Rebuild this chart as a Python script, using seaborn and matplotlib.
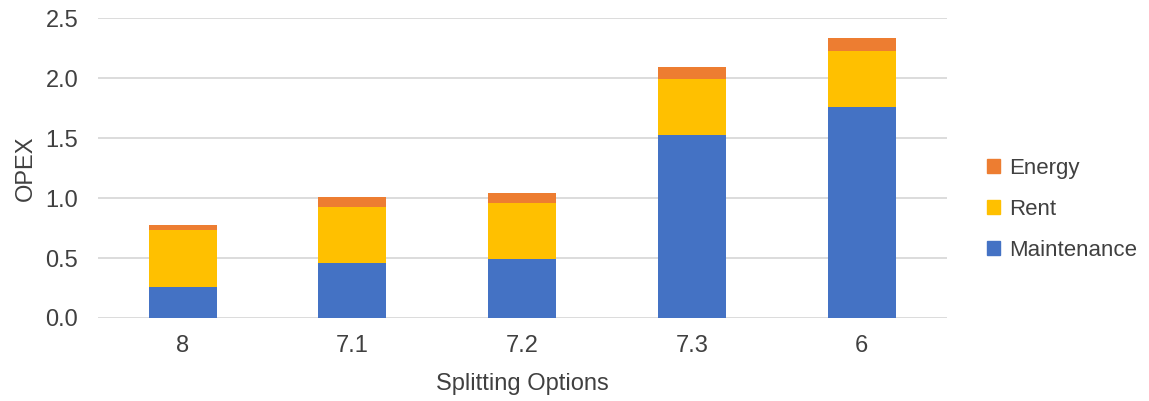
import matplotlib
matplotlib.use('Agg')
import matplotlib.pyplot as plt
import pandas as pd
import seaborn as sns
from matplotlib.patches import Patch

# Data
options = ['8', '7.1', '7.2', '7.3', '6']
maintenance = [0.26, 0.46, 0.49, 1.525, 1.76]
rent = [0.47, 0.465, 0.47, 0.47, 0.465]
energy = [0.045, 0.085, 0.085, 0.10, 0.105]

colors = {'Maintenance': '#4472C4', 'Rent': '#FFC000', 'Energy': '#ED7D31'}

df = pd.DataFrame({'option': options, 'Maintenance': maintenance,
                   'Rent': rent, 'Energy': energy})
# cumulative heights for stacking (drawn back to front)
df['Rent_top'] = df['Maintenance'] + df['Rent']
df['Energy_top'] = df['Rent_top'] + df['Energy']

sns.set_style('white')
plt.rcParams['font.family'] = ['Liberation Sans', 'DejaVu Sans']

fig, ax = plt.subplots(figsize=(11.49, 4.01), dpi=100)
fig.subplots_adjust(left=0.085, right=0.824, bottom=0.207, top=0.955)

for col, key in [('Energy_top', 'Energy'), ('Rent_top', 'Rent'),
                 ('Maintenance', 'Maintenance')]:
    sns.barplot(data=df, x='option', y=col, color=colors[key], width=0.4,
                saturation=1, linewidth=0, ax=ax, zorder=3)

ax.set_ylim(0, 2.5)
ax.set_yticks([0, 0.5, 1.0, 1.5, 2.0, 2.5])
ax.set_yticklabels(['0.0', '0.5', '1.0', '1.5', '2.0', '2.5'])
ax.yaxis.grid(True, color='#D9D9D9', linewidth=1.3, zorder=0)
ax.set_axisbelow(True)
for s in ax.spines.values():
    s.set_visible(False)

ax.tick_params(axis='x', length=0, pad=12, labelsize=17, labelcolor='#404040')
ax.tick_params(axis='y', length=0, pad=14, labelsize=17, labelcolor='#404040')
ax.set_xlabel('Splitting Options', fontsize=17, color='#404040', labelpad=12)
ax.set_ylabel('OPEX', fontsize=17, color='#404040', labelpad=6)

handles = [Patch(color=colors[k]) for k in ['Energy', 'Rent', 'Maintenance']]
ax.legend(handles, ['Energy', 'Rent', 'Maintenance'], loc='center left',
          bbox_to_anchor=(1.047, 0.362), frameon=False, fontsize=16,
          borderpad=0, borderaxespad=0,
          handlelength=0.6, handleheight=0.6, handletextpad=0.4,
          labelspacing=0.9, labelcolor='#404040')

fig.savefig('out.png', dpi=100)
